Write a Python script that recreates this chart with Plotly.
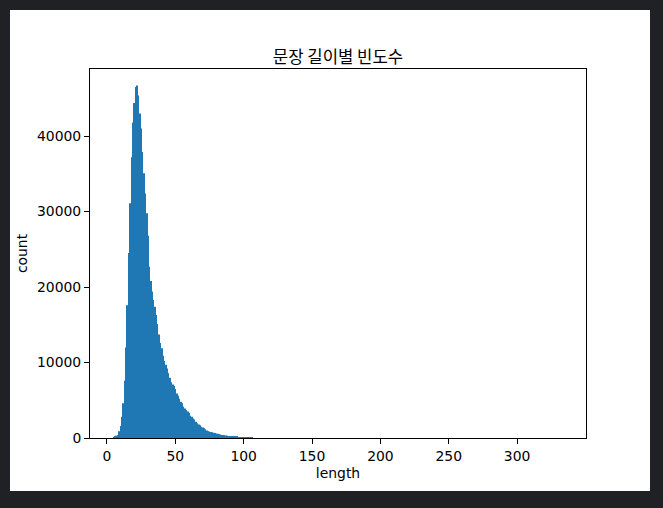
import plotly.graph_objects as go

# sentence length -> number of samples
lengths = list(range(5, 107))
counts = [
    100, 200, 300, 400, 900, 1600,            # 5-10
    2800, 4600, 7600, 12000, 17600, 24500, 31100, 37200, 41800, 44400,  # 11-20
    46500, 46700, 45400, 43000, 41000, 37900, 35100, 32400, 29800, 26800,  # 21-30
    22700, 20800, 19400, 18300, 17400, 16300, 15100, 13700, 12600, 11900,  # 31-40
    10900, 10200, 9700, 9200, 8600, 8000, 7400, 7100, 6900, 6500,  # 41-50
    5900, 5600, 5200, 4800, 4600, 4150, 3900, 3700, 3500, 3350,  # 51-60
    2950, 2800, 2600, 2450, 2150, 1950, 1800, 1700, 1500, 1400,  # 61-70
    1300, 1150, 1000, 900, 850, 800, 750, 700, 650, 600,  # 71-80
    550, 500, 450, 400, 400, 380, 330, 290, 270, 260,  # 81-90
    240, 200, 180, 160, 140, 130, 120, 115, 110, 105,  # 91-100
    100, 90, 80, 70, 60, 50,  # 101-106
]

x_ticks = [0, 50, 100, 150, 200, 250, 300]
y_ticks = [0, 10000, 20000, 30000, 40000]

title_text = "문장 길이별 빈도수"
x_title = "length"
y_title = "count"

fig = go.Figure(
    go.Bar(
        x=lengths,
        y=counts,
        marker=dict(color="#1f77b4", line=dict(width=0)),
    )
)

W, H = 663, 508
ml, mr, mt, mb = 90, 77, 69, 70
pw, ph = W - ml - mr, H - mt - mb

fig.add_shape(
    type="rect", xref="paper", yref="paper", layer="below",
    x0=(10 - ml) / pw, x1=(650 - ml) / pw,
    y0=(H - mb - 491) / ph, y1=(H - mb - 10) / ph,
    fillcolor="white", line=dict(width=0),
)

font = "DejaVu Sans, Noto Sans CJK KR, sans-serif"
axis_common = dict(
    showline=True, mirror=True, linecolor="black", linewidth=1,
    ticks="outside", ticklen=5, tickwidth=1, tickcolor="black",
    showgrid=False, zeroline=False,
    tickfont=dict(family=font, size=13.9, color="black"),
)

fig.update_layout(
    width=W, height=H,
    margin=dict(l=ml, r=mr, t=mt, b=mb, pad=0),
    paper_bgcolor="#202124",
    plot_bgcolor="white",
    bargap=0.2,
    showlegend=False,
    title=dict(
        text=title_text, x=0.5, xref="paper", xanchor="center",
        y=1, yref="paper", yanchor="bottom", pad=dict(b=6),
        font=dict(family="Noto Sans CJK KR, " + font, size=16.7, color="black"),
    ),
    xaxis=dict(
        range=[-12.4, 350.4], tickvals=x_ticks, ticktext=[str(v) for v in x_ticks],
        title=dict(text=x_title, font=dict(family=font, size=13.9, color="black"), standoff=5),
        **axis_common,
    ),
    yaxis=dict(
        range=[0, 48900], tickvals=y_ticks, ticktext=[str(v) for v in y_ticks],
        title=dict(text=y_title, font=dict(family=font, size=13.9, color="black"), standoff=6),
        **axis_common,
    ),
)

fig.write_html(
    "out.html",
    config={"displayModeBar": False},
    post_script="document.body.style.margin='0';document.body.style.background='#202124';",
)
